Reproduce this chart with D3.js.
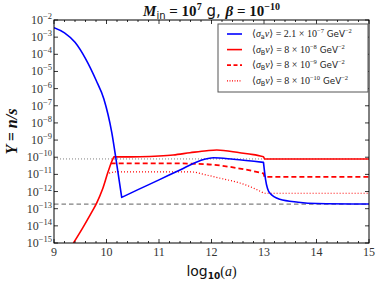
<!DOCTYPE html>
<html>
<head>
<meta charset="utf-8">
<script src="https://cdn.jsdelivr.net/npm/d3@7"></script>
<style>
  body { margin: 0; background: #fff; }
  svg { display: block; }
</style>
</head>
<body>
<div id="chart"></div>
<script>
// values, Y given as log10(Y)
var blueX = [9.0, 9.2, 9.4, 9.6, 9.8, 9.95, 10.1, 10.2, 10.29, 10.6, 11.0, 11.4, 11.78, 12.04, 12.42, 12.99, 13.03, 13.11, 13.3, 13.65, 14.0, 15.0];
var blueLogY = [-2.45, -2.75, -3.3, -4.25, -5.5, -6.6, -8.55, -10.5, -12.34, -11.89, -11.32, -10.74, -10.2, -10.03, -10.12, -10.3, -11.3, -12.09, -12.45, -12.62, -12.7, -12.73];

var redX = [9.37, 9.55, 9.7, 9.81, 9.92, 10.03, 10.1, 10.14, 10.3, 10.64, 11.0, 11.27, 11.59, 11.91, 12.1, 12.54, 12.8, 12.99, 13.01, 15.0];
var redLogY = [-15, -14.1, -13.3, -12.69, -11.9, -10.85, -10.25, -9.98, -9.98, -9.97, -9.93, -9.87, -9.74, -9.62, -9.58, -9.74, -9.85, -9.97, -10.1, -10.1];

var redDashX = [10.08, 10.14, 10.32, 11.27, 11.91, 12.54, 12.99, 13.01, 15.0];
var redDashLogY = [-10.36, -10.36, -10.36, -10.36, -10.41, -10.66, -10.94, -11.14, -11.14];

var redDotX = [10.05, 10.2, 11.0, 11.59, 11.91, 12.2, 12.54, 12.8, 13.0, 15.0];
var redDotLogY = [-10.93, -10.85, -10.85, -10.85, -11.04, -11.25, -11.5, -11.8, -12.1, -12.1];

var grayDotLogY = -10.1;
var grayDashLogY = -12.73;

var xTicks = [9, 10, 11, 12, 13, 14, 15];
var yTickExps = [-2, -3, -4, -5, -6, -7, -8, -9, -10, -11, -12, -13, -14, -15];

var legendLabels = [
  {sig: "a", coef: "2.1", exp: "\u22127"},
  {sig: "B", coef: "8", exp: "\u22128"},
  {sig: "B", coef: "8", exp: "\u22129"},
  {sig: "B", coef: "8", exp: "\u221210"}
];

var W = 380, H = 283;
var margin = {top: 20, right: 11, bottom: 40, left: 54};
var width = W - margin.left - margin.right,
    height = H - margin.top - margin.bottom;

var serif = "'Liberation Serif', 'DejaVu Serif', serif";
var sans = "'DejaVu Sans', 'Liberation Sans', sans-serif";

var svg = d3.select("#chart").append("svg")
    .attr("width", W)
    .attr("height", H);

var g = svg.append("g")
    .attr("transform", "translate(" + margin.left + "," + margin.top + ")");

var x = d3.scaleLinear().domain([9, 15]).range([0, width]);
var y = d3.scaleLog().domain([1e-15, 1e-2]).range([height, 0]);

g.append("clipPath").attr("id", "clip")
  .append("rect").attr("width", width).attr("height", height);

var plot = g.append("g").attr("clip-path", "url(#clip)");

function toPts(xs, ly) {
  return xs.map(function(d, i) { return [d, Math.pow(10, ly[i])]; });
}

var line = d3.line()
    .curve(d3.curveMonotoneX)
    .x(function(d) { return x(d[0]); })
    .y(function(d) { return y(d[1]); });

// join smooth pieces at the sharp corners (indices into the arrays)
function pathWithCorners(pts, corners) {
  var cuts = [0].concat(corners, [pts.length - 1]);
  var d = "";
  for (var i = 0; i < cuts.length - 1; i++) {
    var seg = line(pts.slice(cuts[i], cuts[i + 1] + 1));
    d += (i === 0) ? seg : seg.replace(/^M[^A-Za-z]*/, "");
  }
  return d;
}

// reference lines
plot.append("line")
    .attr("x1", 0).attr("x2", width)
    .attr("y1", y(Math.pow(10, grayDotLogY))).attr("y2", y(Math.pow(10, grayDotLogY)))
    .attr("stroke", "#808080").attr("stroke-width", 1)
    .attr("stroke-dasharray", "1,2");
plot.append("line")
    .attr("x1", 0).attr("x2", width)
    .attr("y1", y(Math.pow(10, grayDashLogY))).attr("y2", y(Math.pow(10, grayDashLogY)))
    .attr("stroke", "#808080").attr("stroke-width", 1.3)
    .attr("stroke-dasharray", "4.5,3");

var series = [
  {pts: toPts(redDotX, redDotLogY), corners: [8], color: "#ff0000", dash: "1,2", w: 1.2},
  {pts: toPts(redDashX, redDashLogY), corners: [6, 7], color: "#ff0000", dash: "5,3", w: 1.8},
  {pts: toPts(redX, redLogY), corners: [7, 17, 18], color: "#ff0000", dash: null, w: 1.6},
  {pts: toPts(blueX, blueLogY), corners: [8, 15], color: "#0000ff", dash: null, w: 1.6}
];

series.forEach(function(s) {
  plot.append("path")
      .attr("d", pathWithCorners(s.pts, s.corners))
      .attr("fill", "none")
      .attr("stroke", s.color)
      .attr("stroke-width", s.w)
      .attr("stroke-linejoin", "round")
      .attr("stroke-dasharray", s.dash);
});

// axes: ticks inside on all four sides
var xMinor = d3.range(9, 15.001, 0.2);
function ticksH(yPos, dir) {
  xMinor.forEach(function(v) {
    var major = Math.abs(v - Math.round(v)) < 1e-6;
    g.append("line")
      .attr("x1", x(v)).attr("x2", x(v))
      .attr("y1", yPos).attr("y2", yPos + dir * (major ? 4 : 2))
      .attr("stroke", "#000").attr("stroke-width", 0.8);
  });
}
ticksH(height, -1);
ticksH(0, 1);

function ticksV(xPos, dir) {
  yTickExps.forEach(function(e) {
    g.append("line")
      .attr("x1", xPos).attr("x2", xPos + dir * 4)
      .attr("y1", y(Math.pow(10, e))).attr("y2", y(Math.pow(10, e)))
      .attr("stroke", "#000").attr("stroke-width", 0.8);
  });
}
ticksV(0, 1);
ticksV(width, -1);

g.append("rect")
    .attr("width", width).attr("height", height)
    .attr("fill", "none").attr("stroke", "#000").attr("stroke-width", 1);

// tick labels
xTicks.forEach(function(v) {
  g.append("text")
    .attr("x", x(v)).attr("y", height + 13)
    .attr("text-anchor", "middle")
    .attr("font-family", serif).attr("font-size", 12)
    .attr("fill", "#333")
    .text(v);
});

yTickExps.forEach(function(e) {
  var t = g.append("text")
    .attr("x", -2).attr("y", y(Math.pow(10, e)) + 4)
    .attr("text-anchor", "end")
    .attr("font-family", serif).attr("font-size", 12)
    .attr("fill", "#333");
  t.append("tspan").text("10");
  t.append("tspan").attr("dy", -5).attr("font-size", 8.5)
    .text(String(e).replace("-", "\u2212"));
});

// legend
var lg = g.append("g").attr("transform", "translate(164,4)");
lg.append("rect")
    .attr("width", 150).attr("height", 68)
    .attr("fill", "#fff").attr("stroke", "#555").attr("stroke-width", 1);

var legendStyles = [
  {color: "#0000ff", dash: null, w: 1.6},
  {color: "#ff0000", dash: null, w: 1.6},
  {color: "#ff0000", dash: "4,2.5", w: 1.8},
  {color: "#ff0000", dash: "1,1.5", w: 1.2}
];

legendLabels.forEach(function(d, i) {
  var yy = 10 + i * 15.6;
  lg.append("line")
    .attr("x1", 9).attr("x2", 24)
    .attr("y1", yy).attr("y2", yy)
    .attr("stroke", legendStyles[i].color)
    .attr("stroke-width", legendStyles[i].w)
    .attr("stroke-dasharray", legendStyles[i].dash);
  var t = lg.append("text")
    .attr("x", 34).attr("y", yy + 3)
    .attr("font-family", serif).attr("font-size", 10)
    .attr("fill", "#222");
  t.append("tspan").text("\u27e8");
  t.append("tspan").attr("font-style", "italic").text("\u03c3");
  t.append("tspan").attr("font-family", sans).attr("font-size", 6.5).attr("dy", 2).text(d.sig);
  t.append("tspan").attr("font-style", "italic").attr("dy", -2).text("v");
  t.append("tspan").text("\u27e9 = " + d.coef + " \u00d7 10");
  t.append("tspan").attr("font-size", 6.5).attr("dy", -4).text(d.exp);
  t.append("tspan").attr("font-family", sans).attr("font-size", 8.8).attr("dy", 4).text(" GeV");
  t.append("tspan").attr("font-size", 6.5).attr("dy", -4).text("\u22122");
});

// title
var title = svg.append("text")
    .attr("x", margin.left + width / 2).attr("y", 16)
    .attr("text-anchor", "middle")
    .attr("font-family", serif).attr("font-size", 15)
    .attr("font-weight", "bold").attr("fill", "#111");
title.append("tspan").attr("font-style", "italic").text("M");
title.append("tspan").attr("font-family", sans).attr("font-weight", "normal")
    .attr("font-size", 10).attr("dy", 3).text("in");
title.append("tspan").attr("dy", -3).text(" = 10");
title.append("tspan").attr("font-size", 10).attr("dy", -6).text("7");
title.append("tspan").attr("font-family", sans).attr("font-weight", "normal")
    .attr("dy", 6).text(" g, ");
title.append("tspan").attr("font-style", "italic").text("\u03b2");
title.append("tspan").text(" = 10");
title.append("tspan").attr("font-size", 10).attr("dy", -6).text("\u221210");

// axis titles
var xl = svg.append("text")
    .attr("x", margin.left + width / 2).attr("y", 276)
    .attr("text-anchor", "middle")
    .attr("font-size", 14).attr("fill", "#111");
xl.append("tspan").attr("font-family", sans).text("log");
xl.append("tspan").attr("font-family", sans).attr("font-size", 9).attr("font-weight", "bold").attr("dy", 3).text("10");
xl.append("tspan").attr("font-family", serif).attr("dy", -3).text("(");
xl.append("tspan").attr("font-family", serif).attr("font-style", "italic").text("a");
xl.append("tspan").attr("font-family", serif).text(")");

svg.append("text")
    .attr("transform", "translate(17," + (margin.top + height / 2) + ") rotate(-90)")
    .attr("text-anchor", "middle")
    .attr("font-family", serif).attr("font-size", 16)
    .attr("font-weight", "bold").attr("font-style", "italic")
    .attr("fill", "#111")
    .text("Y = n/s");
</script>
</body>
</html>
